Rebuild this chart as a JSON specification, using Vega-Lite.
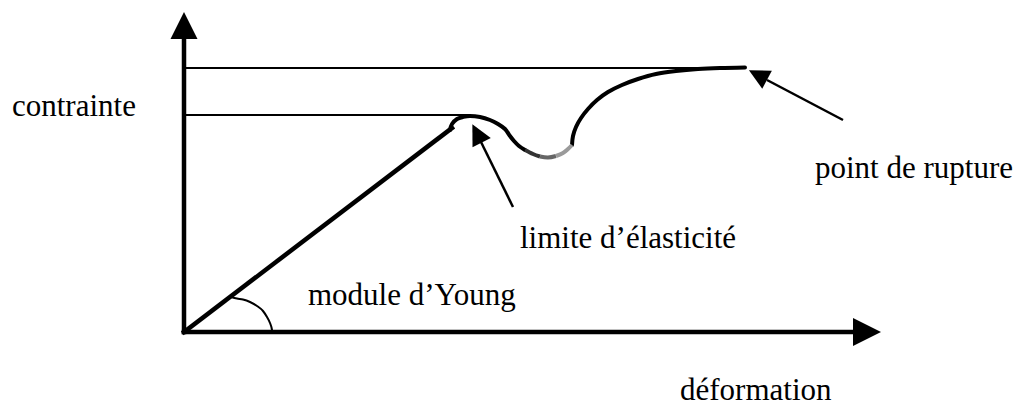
{
  "$schema": "https://vega.github.io/schema/vega-lite/v6.json",
  "width": 1023,
  "height": 406,
  "padding": 0,
  "autosize": "none",
  "background": "white",
  "config": {"view": {"stroke": null}},
  "datasets": {
    "traits": [
      {"seg": "xaxis", "ord": 0, "x": 0, "y": 0},
      {"seg": "xaxis", "ord": 1, "x": 669, "y": 0},
      {"seg": "yaxis", "ord": 0, "x": 0, "y": 0},
      {"seg": "yaxis", "ord": 1, "x": 0, "y": 293},
      {"seg": "haut", "ord": 0, "x": 0, "y": 264},
      {"seg": "haut", "ord": 1, "x": 561, "y": 264},
      {"seg": "bas", "ord": 0, "x": 0, "y": 217},
      {"seg": "bas", "ord": 1, "x": 286, "y": 217},
      {"seg": "elast", "ord": 0, "x": 0, "y": 0},
      {"seg": "elast", "ord": 1, "x": 268, "y": 204},
      {"seg": "c1", "ord": 0, "x": 266, "y": 202},
      {"seg": "c1", "ord": 1, "x": 268, "y": 208},
      {"seg": "c1", "ord": 2, "x": 273, "y": 213},
      {"seg": "c1", "ord": 3, "x": 279, "y": 215},
      {"seg": "c1", "ord": 4, "x": 286, "y": 216},
      {"seg": "c1", "ord": 5, "x": 296, "y": 215},
      {"seg": "c1", "ord": 6, "x": 306, "y": 212},
      {"seg": "c1", "ord": 7, "x": 314, "y": 208},
      {"seg": "c1", "ord": 8, "x": 321, "y": 203},
      {"seg": "c1", "ord": 9, "x": 326, "y": 196},
      {"seg": "c1", "ord": 10, "x": 330, "y": 191},
      {"seg": "c1", "ord": 11, "x": 335, "y": 186},
      {"seg": "c1", "ord": 12, "x": 341, "y": 182},
      {"seg": "g1", "ord": 0, "x": 341, "y": 182},
      {"seg": "g1", "ord": 1, "x": 349, "y": 178},
      {"seg": "g1", "ord": 2, "x": 356, "y": 175.5},
      {"seg": "g2", "ord": 0, "x": 356, "y": 175.5},
      {"seg": "g2", "ord": 1, "x": 364, "y": 174.5},
      {"seg": "g2", "ord": 2, "x": 372, "y": 176},
      {"seg": "g3", "ord": 0, "x": 372, "y": 176},
      {"seg": "g3", "ord": 1, "x": 379, "y": 179},
      {"seg": "g3", "ord": 2, "x": 384, "y": 183},
      {"seg": "g3", "ord": 3, "x": 388, "y": 187},
      {"seg": "c3", "ord": 0, "x": 388, "y": 187},
      {"seg": "c3", "ord": 1, "x": 389, "y": 196},
      {"seg": "c3", "ord": 2, "x": 392, "y": 205},
      {"seg": "c3", "ord": 3, "x": 397, "y": 214},
      {"seg": "c3", "ord": 4, "x": 404, "y": 223},
      {"seg": "c3", "ord": 5, "x": 413, "y": 232},
      {"seg": "c3", "ord": 6, "x": 424, "y": 240},
      {"seg": "c3", "ord": 7, "x": 438, "y": 247},
      {"seg": "c3", "ord": 8, "x": 454, "y": 253},
      {"seg": "c3", "ord": 9, "x": 472, "y": 258},
      {"seg": "c3", "ord": 10, "x": 492, "y": 261},
      {"seg": "c3", "ord": 11, "x": 514, "y": 263},
      {"seg": "c3", "ord": 12, "x": 536, "y": 264},
      {"seg": "c3", "ord": 13, "x": 561, "y": 264.5},
      {"seg": "arc", "ord": 0, "x": 47, "y": 35},
      {"seg": "arc", "ord": 1, "x": 53, "y": 33.5},
      {"seg": "arc", "ord": 2, "x": 59, "y": 32.5},
      {"seg": "arc", "ord": 3, "x": 66, "y": 30},
      {"seg": "arc", "ord": 4, "x": 73, "y": 26},
      {"seg": "arc", "ord": 5, "x": 79, "y": 21},
      {"seg": "arc", "ord": 6, "x": 83, "y": 15},
      {"seg": "arc", "ord": 7, "x": 86, "y": 9},
      {"seg": "arc", "ord": 8, "x": 88, "y": 2},
      {"seg": "arc", "ord": 9, "x": 88, "y": 0},
      {"seg": "flecheR", "ord": 0, "x": 659, "y": 212},
      {"seg": "flecheR", "ord": 1, "x": 583, "y": 252},
      {"seg": "flecheL", "ord": 0, "x": 329, "y": 125},
      {"seg": "flecheL", "ord": 1, "x": 297, "y": 190}
    ],
    "pointes": [
      {"id": "y", "x": 0, "y": 306.5},
      {"id": "x", "x": 683, "y": 0},
      {"id": "rupture", "x": 574, "y": 257},
      {"id": "limite", "x": 293, "y": 198.5}
    ],
    "textes": [
      {"label": "contrainte", "x": -172, "y": 216},
      {"label": "point de rupture", "x": 631, "y": 154},
      {"label": "limite d’élasticité", "x": 336, "y": 84},
      {"label": "module d’Young", "x": 124, "y": 27},
      {"label": "déformation", "x": 496, "y": -68}
    ]
  },
  "encoding": {
    "x": {"field": "x", "type": "quantitative", "scale": {"domain": [-184, 839], "nice": false, "zero": false}, "axis": null},
    "y": {"field": "y", "type": "quantitative", "scale": {"domain": [-74, 332], "nice": false, "zero": false}, "axis": null}
  },
  "layer": [
    {
      "data": {"name": "traits"},
      "transform": [{"filter": {"field": "seg", "oneOf": ["haut", "bas"]}}],
      "mark": {"type": "line", "color": "black", "strokeWidth": 2, "strokeCap": "butt"},
      "encoding": {"detail": {"field": "seg"}, "order": {"field": "ord"}}
    },
    {
      "data": {"name": "traits"},
      "transform": [{"filter": {"field": "seg", "oneOf": ["arc"]}}],
      "mark": {"type": "line", "color": "black", "strokeWidth": 2, "interpolate": "monotone"},
      "encoding": {"detail": {"field": "seg"}, "order": {"field": "ord"}}
    },
    {
      "data": {"name": "traits"},
      "transform": [{"filter": {"field": "seg", "oneOf": ["flecheR", "flecheL"]}}],
      "mark": {"type": "line", "color": "black", "strokeWidth": 2.5, "strokeCap": "butt"},
      "encoding": {"detail": {"field": "seg"}, "order": {"field": "ord"}}
    },
    {
      "data": {"name": "traits"},
      "transform": [{"filter": {"field": "seg", "oneOf": ["xaxis", "yaxis", "elast"]}}],
      "mark": {"type": "line", "color": "black", "strokeWidth": 4.5, "strokeCap": "square"},
      "encoding": {"detail": {"field": "seg"}, "order": {"field": "ord"}}
    },
    {
      "data": {"name": "traits"},
      "transform": [{"filter": {"field": "seg", "oneOf": ["c1", "c3"]}}],
      "mark": {"type": "line", "color": "black", "strokeWidth": 4, "strokeCap": "round", "interpolate": "cardinal"},
      "encoding": {"detail": {"field": "seg"}, "order": {"field": "ord"}}
    },
    {
      "data": {"name": "traits"},
      "transform": [{"filter": {"field": "seg", "oneOf": ["g1", "g2", "g3"]}}],
      "mark": {"type": "line", "strokeWidth": 4, "strokeCap": "butt", "interpolate": "cardinal"},
      "encoding": {
        "detail": {"field": "seg"},
        "order": {"field": "ord"},
        "color": {"field": "seg", "type": "nominal", "scale": {"domain": ["g1", "g2", "g3"], "range": ["#333333", "#666666", "#9a9a9a"]}, "legend": null}
      }
    },
    {
      "data": {"name": "pointes"},
      "transform": [{"filter": {"field": "id", "equal": "y"}}],
      "mark": {"type": "point", "shape": "M0,-1L1,1L-1,1Z", "filled": true, "color": "black", "opacity": 1, "size": 729, "angle": 0, "strokeWidth": 0}
    },
    {
      "data": {"name": "pointes"},
      "transform": [{"filter": {"field": "id", "equal": "x"}}],
      "mark": {"type": "point", "shape": "M0,-1L1,1L-1,1Z", "filled": true, "color": "black", "opacity": 1, "size": 784, "angle": 90, "strokeWidth": 0}
    },
    {
      "data": {"name": "pointes"},
      "transform": [{"filter": {"field": "id", "equal": "rupture"}}],
      "mark": {"type": "point", "shape": "M0,-1L1,1L-1,1Z", "filled": true, "color": "black", "opacity": 1, "size": 420, "angle": 298, "strokeWidth": 0}
    },
    {
      "data": {"name": "pointes"},
      "transform": [{"filter": {"field": "id", "equal": "limite"}}],
      "mark": {"type": "point", "shape": "M0,-1L1,1L-1,1Z", "filled": true, "color": "black", "opacity": 1, "size": 420, "angle": 333, "strokeWidth": 0}
    },
    {
      "data": {"name": "textes"},
      "mark": {"type": "text", "align": "left", "baseline": "alphabetic", "font": "Liberation Serif", "fontSize": 31, "color": "black"},
      "encoding": {"text": {"field": "label"}}
    }
  ]
}
